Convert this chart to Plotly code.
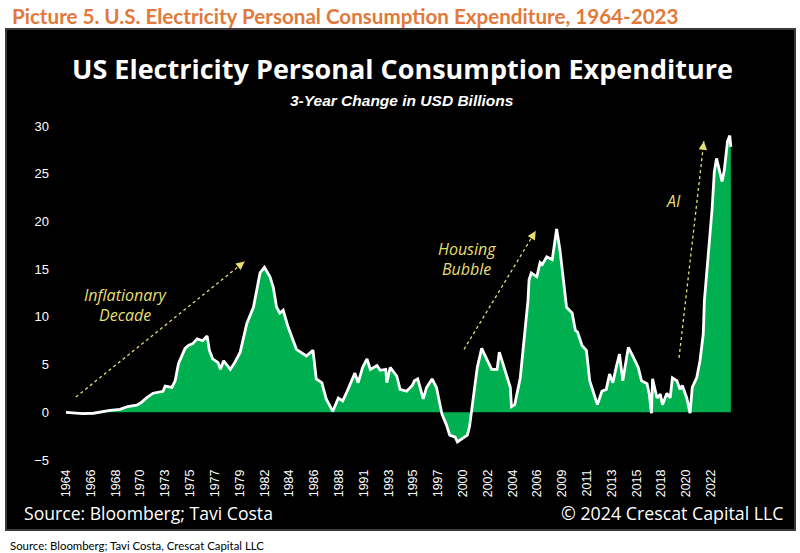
import plotly.graph_objects as go

# ---- data ----
years = [1964.0, 1965.0, 1965.5, 1966.5, 1967.4, 1968.0, 1968.9, 1969.6, 1970.4, 1970.8,
         1971.3, 1971.9, 1972.8, 1973.0, 1973.6, 1973.9, 1974.2, 1974.8, 1975.1, 1975.5,
         1975.9, 1976.4, 1976.8, 1977.0, 1977.3, 1977.8, 1978.0, 1978.3, 1978.9, 1979.3,
         1979.8, 1980.4, 1981.0, 1981.6, 1982.0, 1982.5, 1982.8, 1983.1, 1983.4, 1983.7,
         1984.1, 1984.5, 1984.9, 1985.8, 1986.4, 1986.7, 1987.2, 1987.6, 1988.2, 1988.7,
         1989.1, 1989.5, 1989.9, 1990.2, 1990.5, 1990.9, 1991.3, 1991.6, 1992.2, 1992.5,
         1993.0, 1993.1, 1993.4, 1994.0, 1994.3, 1994.9, 1995.4, 1995.6, 1995.9, 1996.4,
         1996.7, 1997.2, 1997.6, 1998.1, 1998.5, 1998.8, 1999.3, 1999.5, 2000.0, 2000.4,
         2000.6, 2000.9, 2001.3, 2001.7, 2002.2, 2002.6, 2003.1, 2003.3, 2003.6, 2004.0,
         2004.3, 2004.4, 2004.7, 2005.2, 2005.6, 2005.9, 2006.0, 2006.2, 2006.7, 2007.0,
         2007.2, 2007.6, 2008.1, 2008.3, 2008.5, 2008.8, 2009.1, 2009.4, 2009.9, 2010.2,
         2010.4, 2010.8, 2011.2, 2011.5, 2012.0, 2012.2, 2012.6, 2013.0, 2013.3, 2013.6,
         2013.9, 2014.2, 2014.5, 2014.7, 2015.0, 2015.4, 2015.9, 2016.2, 2016.7, 2016.9,
         2017.1, 2017.2, 2017.6, 2017.9, 2018.1, 2018.5, 2018.8, 2019.0, 2019.4, 2019.7,
         2019.9, 2020.3, 2020.6, 2020.8, 2021.2, 2021.5, 2021.8, 2021.9, 2022.1, 2022.6,
         2022.8, 2023.0, 2023.5, 2023.7, 2024.0, 2024.2, 2024.3]
change_bn = [0.0, -0.05, -0.15, -0.1, 0.1, 0.2, 0.3, 0.6, 0.75, 1.0,
             1.5, 2.0, 2.2, 2.75, 2.6, 3.3, 5.1, 6.7, 7.0, 7.2,
             7.7, 7.5, 8.0, 6.5, 5.6, 5.2, 4.5, 5.4, 4.5, 5.2,
             6.3, 9.3, 11.0, 14.6, 15.2, 14.2, 13.1, 11.0, 10.4, 10.7,
             9.1, 7.8, 6.6, 5.9, 6.5, 3.5, 3.1, 1.4, 0.1, 1.5,
             1.2, 2.2, 3.3, 4.1, 3.1, 4.7, 5.6, 4.5, 4.9, 4.4,
             4.5, 3.1, 4.7, 3.8, 2.4, 2.2, 2.8, 3.3, 3.5, 1.4,
             2.6, 3.5, 2.6, -0.2, -1.3, -2.4, -2.6, -3.1, -2.7, -2.4,
             -1.5, 1.1, 4.7, 6.7, 5.4, 4.5, 4.5, 6.3, 5.2, 3.6,
             2.6, 0.6, 0.8, 3.6, 8.2, 11.7, 13.9, 14.6, 14.2, 15.7,
             15.5, 16.3, 16.0, 17.9, 19.2, 17.0, 13.9, 11.0, 10.4, 8.6,
             8.4, 7.0, 6.5, 3.3, 1.5, 0.8, 2.2, 2.4, 4.0, 3.1,
             4.7, 6.1, 3.3, 4.7, 6.8, 5.9, 4.7, 3.3, 3.0, 1.9,
             -0.1, 3.5, 1.5, 1.9, 0.8, 2.0, 1.5, 3.6, 3.3, 2.4,
             2.8, 1.5, -0.1, 2.6, 3.6, 5.4, 8.2, 11.7, 14.2, 21.3,
             25.2, 26.6, 24.2, 25.3, 28.4, 29.0, 27.8]

tick_labels = ["1964", "1966", "1968", "1970", "1973", "1975", "1977", "1979", "1982",
               "1984", "1986", "1988", "1991", "1993", "1995", "1997", "2000", "2002",
               "2004", "2006", "2009", "2011", "2013", "2015", "2018", "2020", "2022"]
tick_positions = [1964.0, 1966.25, 1968.5, 1970.75, 1973.0, 1975.25, 1977.5, 1979.75, 1982.0,
                  1984.25, 1986.5, 1988.75, 1991.0, 1993.25, 1995.5, 1997.75, 2000.0, 2002.25,
                  2004.5, 2006.75, 2009.0, 2011.25, 2013.5, 2015.75, 2018.0, 2020.25, 2022.5]
y_ticks = [-5, 0, 5, 10, 15, 20, 25, 30]

# ---- layout geometry (pixels) ----
W, H = 800, 553
L, R, T, B = 60, 740, 126, 460


def px(x):
    return (x - L) / (R - L)


def py(y):
    return (B - y) / (B - T)


GREEN = "#00B050"
YEL = "#E6DF72"

fig = go.Figure()
fig.add_trace(go.Scatter(
    x=years, y=change_bn, mode="lines", fill="tozeroy",
    fillcolor=GREEN, line=dict(color="white", width=2.8),
    hoverinfo="x+y", showlegend=False))

shapes = [
    dict(type="rect", xref="paper", yref="paper", x0=px(6), x1=px(795), y0=py(29), y1=py(530),
         fillcolor="black", line=dict(color="#3a3a3a", width=2), layer="below"),
]

# dotted trend arrows (tail -> head), data coords
arrows = [
    ((1964.9, 1.6), (1980.2, 15.8)),
    ((2000.1, 6.6), (2006.6, 19.0)),
    ((2019.6, 5.7), (2021.85, 28.4)),
]
xpu = (R - L) / (2025.13 - 1963.456)
ypu = (B - T) / 35.0
annotations = []
for (x0, y0), (x1, y1) in arrows:
    shapes.append(dict(type="line", xref="x", yref="y", x0=x0, y0=y0, x1=x1, y1=y1,
                       line=dict(color=YEL, width=1.3, dash="dot"), layer="above"))
    dx = (x1 - x0) * xpu
    dy = -(y1 - y0) * ypu
    n = (dx ** 2 + dy ** 2) ** 0.5
    annotations.append(dict(x=x1, y=y1, xref="x", yref="y", showarrow=True, text="",
                            ax=-dx / n * 7, ay=-dy / n * 7, arrowhead=2, arrowsize=1.3,
                            arrowwidth=1.3, arrowcolor=YEL, standoff=0))

lab_font = dict(family="Open Sans", size=16, color=YEL)
for txt, x, y in [("<i>Inflationary</i>", 126, 295), ("<i>Decade</i>", 125, 315),
                  ("<i>Housing</i>", 467, 249), ("<i>Bubble</i>", 466, 269),
                  ("<i>AI</i>", 673, 201)]:
    annotations.append(dict(x=px(x), y=py(y), xref="paper", yref="paper", text=txt,
                            showarrow=False, font=lab_font, xanchor="center", yanchor="middle"))

annotations += [
    dict(x=px(10), y=py(16), xref="paper", yref="paper", xanchor="left", yanchor="middle",
         text="<b>Picture 5. U.S. Electricity Personal Consumption Expenditure, 1964-2023</b>",
         showarrow=False, font=dict(family="Lato", size=20.6, color="#E2793A")),
    dict(x=px(402), y=py(68), xref="paper", yref="paper", xanchor="center", yanchor="middle",
         text="<b>US Electricity Personal Consumption Expenditure</b>",
         showarrow=False, font=dict(family="Open Sans", size=27, color="white")),
    dict(x=px(402), y=py(101), xref="paper", yref="paper", xanchor="center", yanchor="middle",
         text="<b><i>3-Year Change in USD Billions</i></b>",
         showarrow=False, font=dict(family="Liberation Sans", size=15.5, color="white")),
    dict(x=px(22), y=py(513), xref="paper", yref="paper", xanchor="left", yanchor="middle",
         text="Source: Bloomberg; Tavi Costa",
         showarrow=False, font=dict(family="Open Sans", size=17.6, color="white")),
    dict(x=px(786), y=py(513), xref="paper", yref="paper", xanchor="right", yanchor="middle",
         text="© 2024 Crescat Capital LLC",
         showarrow=False, font=dict(family="Open Sans", size=17.8, color="white")),
    dict(x=px(8), y=py(545), xref="paper", yref="paper", xanchor="left", yanchor="middle",
         text="Source: Bloomberg; Tavi Costa, Crescat Capital LLC",
         showarrow=False, font=dict(family="Lato", size=11.4, color="black")),
]

fig.update_layout(
    width=W, height=H,
    margin=dict(l=L, r=W - R, t=T, b=H - B, pad=0),
    paper_bgcolor="white", plot_bgcolor="rgba(0,0,0,0)",
    shapes=shapes, annotations=annotations,
    xaxis=dict(range=[1963.456, 2025.13], tickmode="array", tickvals=tick_positions,
               ticktext=tick_labels, tickangle=-90, showgrid=False, zeroline=False,
               showline=False, ticks="", ticklabelstandoff=6,
               tickfont=dict(family="Liberation Sans", size=12.5, color="white")),
    yaxis=dict(range=[-5, 30], tickmode="array", tickvals=y_ticks, showgrid=False,
               zeroline=False, showline=False, ticks="", ticklabelstandoff=10,
               tickfont=dict(family="Liberation Sans", size=13, color="white")),
)

fig.write_html("out.html", config={"displayModeBar": False},
               post_script="document.body.style.margin='0';document.body.style.overflow='hidden';")
